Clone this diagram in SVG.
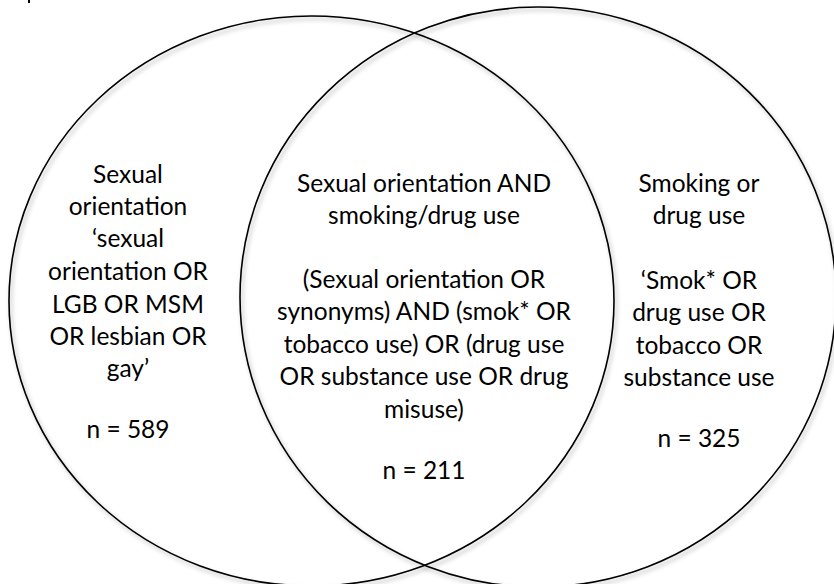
<svg xmlns="http://www.w3.org/2000/svg" width="834" height="584" viewBox="0 0 834 584">
  <defs>
    <filter id="shadow" x="-10%" y="-10%" width="120%" height="120%">
      <feDropShadow dx="2" dy="3" stdDeviation="2" flood-color="#000" flood-opacity="0.3"/>
    </filter>
    <style>
      .set { fill: none; stroke: #000; stroke-width: 1.6; filter: url(#shadow); }
      .lbl { font-family: Lato, "Open Sans", "Liberation Sans", sans-serif; font-size: 24.5px; fill: #000; text-anchor: middle; }
    </style>
  </defs>
  <rect x="0" y="0" width="834" height="584" fill="#fff"/>
  <rect x="28" y="0" width="2" height="3" fill="#000"/>

  <g id="set-sexual-orientation">
    <ellipse class="set" cx="311.5" cy="301" rx="302.5" ry="285"/>
    <text class="lbl" x="128" y="183">Sexual</text>
    <text class="lbl" x="128" y="215">orientation</text>
    <text class="lbl" x="128" y="247">‘sexual</text>
    <text class="lbl" x="128" y="280">orientation OR</text>
    <text class="lbl" x="128" y="313">LGB OR MSM</text>
    <text class="lbl" x="128" y="345">OR lesbian OR</text>
    <text class="lbl" x="128" y="377">gay’</text>
    <text class="lbl" x="128" y="438">n = 589</text>
  </g>

  <g id="set-smoking-drug-use">
    <ellipse class="set" cx="538" cy="297" rx="298" ry="290"/>
    <text class="lbl" x="699" y="192">Smoking or</text>
    <text class="lbl" x="699" y="224">drug use</text>
    <text class="lbl" x="699" y="289">‘Smok* OR</text>
    <text class="lbl" x="699" y="321">drug use OR</text>
    <text class="lbl" x="699" y="354">tobacco OR</text>
    <text class="lbl" x="699" y="386">substance use</text>
    <text class="lbl" x="699" y="447">n = 325</text>
  </g>

  <g id="intersection">
    <text class="lbl" x="424" y="192">Sexual orientation AND</text>
    <text class="lbl" x="424" y="224">smoking/drug use</text>
    <text class="lbl" x="424" y="288">(Sexual orientation OR</text>
    <text class="lbl" x="424" y="320">synonyms) AND (smok* OR</text>
    <text class="lbl" x="424" y="353">tobacco use) OR (drug use</text>
    <text class="lbl" x="424" y="385">OR substance use OR drug</text>
    <text class="lbl" x="424" y="418">misuse)</text>
    <text class="lbl" x="424" y="479">n = 211</text>
  </g>
</svg>
